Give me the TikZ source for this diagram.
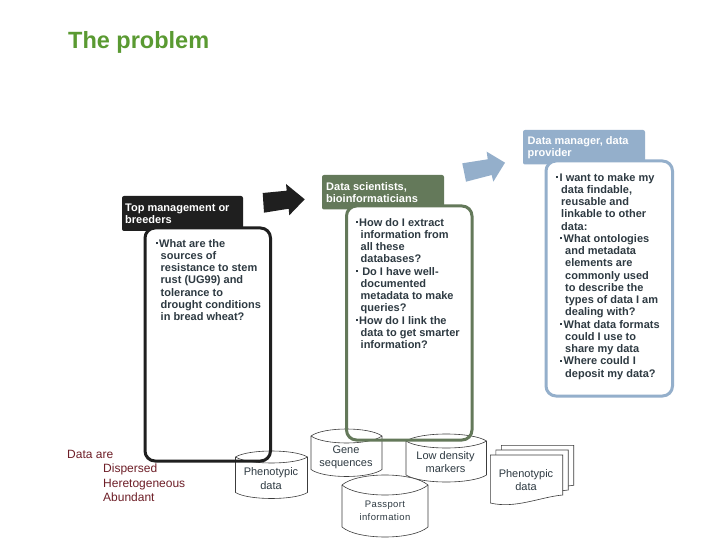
\documentclass[tikz,border=0pt]{standalone}
\usepackage{fontspec}
\setmainfont{Liberation Sans}
\definecolor{titlegreen}{HTML}{5A9A32}
\definecolor{inkblack}{HTML}{1F1F1F}
\definecolor{moss}{HTML}{64795A}
\definecolor{steel}{HTML}{94AFCB}
\definecolor{slate}{HTML}{2E3A42}
\definecolor{wine}{HTML}{6E1F28}
\definecolor{cylgray}{HTML}{3C3C3C}
\newcommand{\bu}{\rule[3pt]{2pt}{2pt}\hspace{1.5pt}}
\newcommand{\ind}[1]{\hspace*{#1pt}}
\tikzset{
  labelbox/.style={rounded corners=2pt},
  qbox/.style={rounded corners=10pt,line width=3pt},
  labeltext/.style={anchor=north west,inner sep=0pt,align=left,text=white,font=\fontsize{11}{12}\selectfont\bfseries},
  qtext/.style={anchor=north west,inner sep=0pt,align=left,text=slate,font=\fontsize{11}{12.25}\selectfont\bfseries},
  cyltext/.style={align=center,inner sep=0pt,text=slate,font=\fontsize{11}{13.5}\selectfont},
  cylline/.style={draw=cylgray,line width=.6pt,fill=white},
}
\newcommand{\cyl}[5]{%
  \pgfmathsetmacro{\ym}{(#3+#4)/2}%
  \pgfmathsetmacro{\yu}{\ym-(#4-#3)*2/3}%
  \pgfmathsetmacro{\yl}{\ym+(#4-#3)*2/3}%
  \pgfmathsetmacro{\ys}{#5-(#4-#3)/2}%
  \pgfmathsetmacro{\yd}{\ys+(#4-#3)*2/3}%
  \pgfmathsetmacro{\xa}{#1+(#2-#1)*.18}%
  \pgfmathsetmacro{\xb}{#2-(#2-#1)*.18}%
  \draw[cylline] (#1,\ym) .. controls (\xa,\yu) and (\xb,\yu) .. (#2,\ym) -- (#2,\ys) .. controls (\xb,\yd) and (\xa,\yd) .. (#1,\ys) -- cycle;
  \draw[cylline,fill=none] (#1,\ym) .. controls (\xa,\yl) and (\xb,\yl) .. (#2,\ym);
}
\newcommand{\sheet}[2]{%
  \draw[cylline] (#1,#2) -- (#1+72.4,#2) -- (#1+72.4,#2+40) .. controls (#1+50,#2+42) and (#1+25,#2+54) .. (#1,#2+48) -- cycle;
}
\begin{document}
\begin{tikzpicture}[x=1pt,y=-1pt]
\useasboundingbox (0,0) rectangle (720,540);
\fill[white] (0,0) rectangle (720,540);
\node[anchor=west,inner sep=0pt,text=titlegreen,font=\fontsize{23.5}{26}\selectfont\bfseries] (title) at (68,42.5) {The problem};

% label boxes
\fill[inkblack,labelbox] (122,196) rectangle (243,231);
\fill[moss,labelbox] (322,175) rectangle (444,209.5);
\fill[steel,labelbox] (523,130) rectangle (645,164.5);

% white interiors of the question boxes
\fill[white,rounded corners=10pt] (145,228) rectangle (270.5,461);
\fill[white,rounded corners=10pt] (346.5,206) rectangle (472,440);
\fill[white,rounded corners=10pt] (546,161) rectangle (672.5,396);

% data stores
\cyl{235.5}{307.5}{451}{463}{498.5}
\cyl{311}{382}{429}{443}{476.5}
\cyl{406}{486.5}{434}{448}{482}
\cyl{342}{428}{475}{495}{537}
\sheet{501.3}{445.3}
\sheet{495.8}{450}
\sheet{490.3}{455}

% question box outlines
\draw[inkblack,qbox] (145,228) rectangle (270.5,461);
\draw[moss,qbox] (346.5,206) rectangle (472,440);
\draw[steel,qbox] (546,161) rectangle (672.5,396);

% arrows
\fill[inkblack] (262.7,193) -- (286.7,190.7) -- (286,184) -- (304.7,199.3) -- (289.3,215.3) -- (288.7,208.7) -- (264,212.7) -- cycle;
\fill[steel] (462.3,163.3) -- (487.7,159.3) -- (486.7,151.7) -- (505,162.7) -- (493.3,181.7) -- (491.7,175) -- (466,181.7) -- cycle;

% labels
\node[labeltext] (lblA) at (125,203.5) {Top management or\\breeders};
\node[labeltext] (lblB) at (326,182) {Data scientists,\\bioinformaticians};
\node[labeltext] (lblC) at (527.5,136.5) {Data manager, data\\provider};

% questions
\node[qtext] (qA) at (155.5,239) {\bu What are the\\\ind{5}sources of\\\ind{5}resistance to stem\\\ind{5}rust (UG99) and\\\ind{5}tolerance to\\\ind{5}drought conditions\\\ind{5}in bread wheat?};
\node[qtext] (qB) at (355.5,218) {\bu How do I extract\\\ind{5}information from\\\ind{5}all these\\\ind{5}databases?\\\bu\ Do I have well-\\\ind{5}documented\\\ind{5}metadata to make\\\ind{5}queries?\\\bu How do I link the\\\ind{5}data to get smarter\\\ind{5}information?};
\node[qtext] (qC) at (556,173) {\bu I want to make my\\\ind{5}data findable,\\\ind{5}reusable and\\\ind{5}linkable to other\\\ind{5}data:\\\ind{4}\bu What ontologies\\\ind{9}and metadata\\\ind{9}elements are\\\ind{9}commonly used\\\ind{9}to describe the\\\ind{9}types of data I am\\\ind{9}dealing with?\\\ind{4}\bu What data formats\\\ind{9}could I use to\\\ind{9}share my data\\\ind{4}\bu Where could I\\\ind{9}deposit my data?};

% data remark
\node[anchor=north west,inner sep=0pt,align=left,text=wine,font=\fontsize{12}{14.5}\selectfont] (remark) at (67,450) {Data are\\\ind{36}Dispersed\\\ind{36}Heretogeneous\\\ind{36}Abundant};

% store texts
\node[cyltext] (c1) at (271,478.5) {Phenotypic\\data};
\node[cyltext] (c2) at (346,457.5) {Gene\\sequences};
\node[cyltext] (c3) at (445.5,462) {Low density\\markers};
\node[cyltext,font=\fontsize{9.5}{13.5}\selectfont\addfontfeatures{LetterSpace=4}] (c4) at (385,511) {Passport\\information};
\node[cyltext] (c5) at (526,480) {Phenotypic\\data};
\end{tikzpicture}
\end{document}
